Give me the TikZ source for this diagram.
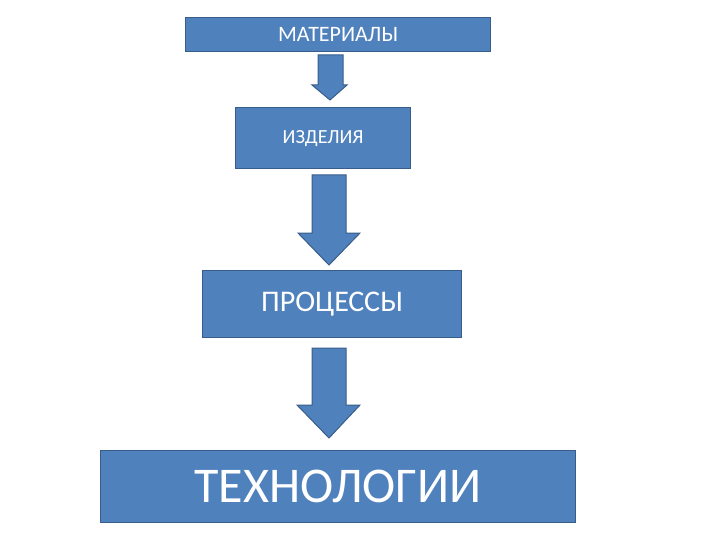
\documentclass[tikz,border=0pt]{standalone}
\usepackage{fontspec}
\setmainfont{Carlito}
\definecolor{bfill}{HTML}{4F81BD}
\definecolor{bline}{HTML}{385D8A}
\begin{document}
\begin{tikzpicture}[x=1pt,y=-1pt,
  box/.style={draw=bline,fill=bfill,line width=1.2pt,text=white,inner sep=0pt,anchor=north west},
  barrow/.style={draw=bline,fill=bfill,line width=1pt}]
\useasboundingbox (0,0) rectangle (720,540);
\node[box,minimum width=305pt,minimum height=34pt] (b1) at (185,17) {\fontsize{22}{24}\selectfont МАТЕРИАЛЫ};
\node[box,minimum width=175pt,minimum height=61pt] (b2) at (235,107) {\fontsize{20}{22}\selectfont ИЗДЕЛИЯ};
\node[box,minimum width=259pt,minimum height=67pt] (b3) at (202,270) {\fontsize{30}{32}\selectfont ПРОЦЕССЫ};
\node[box,minimum width=475pt,minimum height=72pt] (b4) at (100,450) {\fontsize{50}{52}\selectfont ТЕХНОЛОГИИ};
\draw[barrow] (318,55)--(343,55)--(343,85)--(347,85)--(330,100)--(312,85)--(318,85)--cycle;
\draw[barrow] (312,175)--(346,175)--(346,233)--(360,233)--(329,265)--(298,233)--(312,233)--cycle;
\draw[barrow] (312,348)--(346,348)--(346,405)--(360,405)--(329,438)--(297,405)--(312,405)--cycle;
\end{tikzpicture}
\end{document}
